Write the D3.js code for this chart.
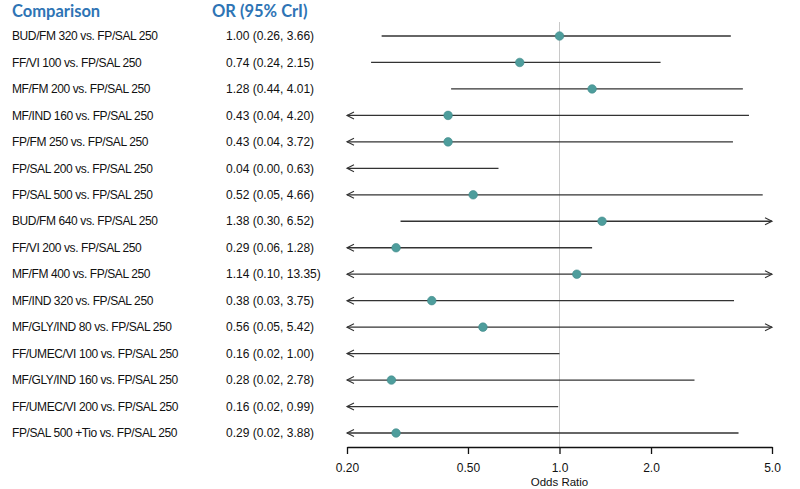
<!DOCTYPE html>
<html>
<head>
<meta charset="utf-8">
<script src="https://cdn.jsdelivr.net/npm/d3@7"></script>
<style>
  body { margin: 0; background: #fff; }
  svg { display: block; }
</style>
</head>
<body>
<script>
'use strict';

// comparisons vs FP/SAL 250
var comparisons = [
   "BUD/FM 320 vs. FP/SAL 250",
   "FF/VI 100 vs. FP/SAL 250",
   "MF/FM 200 vs. FP/SAL 250",
   "MF/IND 160 vs. FP/SAL 250",
   "FP/FM 250 vs. FP/SAL 250",
   "FP/SAL 200 vs. FP/SAL 250",
   "FP/SAL 500 vs. FP/SAL 250",
   "BUD/FM 640 vs. FP/SAL 250",
   "FF/VI 200 vs. FP/SAL 250",
   "MF/FM 400 vs. FP/SAL 250",
   "MF/IND 320 vs. FP/SAL 250",
   "MF/GLY/IND 80 vs. FP/SAL 250",
   "FF/UMEC/VI 100 vs. FP/SAL 250",
   "MF/GLY/IND 160 vs. FP/SAL 250",
   "FF/UMEC/VI 200 vs. FP/SAL 250",
   "FP/SAL 500 +Tio vs. FP/SAL 250"
];
var oddsRatio = [1.00, 0.74, 1.28, 0.43, 0.43, 0.04, 0.52, 1.38, 0.29, 1.14, 0.38, 0.56, 0.16, 0.28, 0.16, 0.29];
var lowerCrI  = [0.26, 0.24, 0.44, 0.04, 0.04, 0.00, 0.05, 0.30, 0.06, 0.10, 0.03, 0.05, 0.02, 0.02, 0.02, 0.02];
var upperCrI  = [3.66, 2.15, 4.01, 4.20, 3.72, 0.63, 4.66, 6.52, 1.28, 13.35, 3.75, 5.42, 1.00, 2.78, 0.99, 3.88];
var tickValues = [0.2, 0.5, 1.0, 2.0, 5.0];
var tickLabels = ["0.20", "0.50", "1.0", "2.0", "5.0"];

var width = 800, height = 489;
var xMin = 0.2, xMax = 5.0;

var svg = d3.select("body").append("svg")
   .attr("width", width)
   .attr("height", height);

var x = d3.scaleLog()
   .domain([xMin, xMax])
   .range([347, 772]);

var y = d3.scaleLinear()
   .domain([0, comparisons.length - 1])
   .range([36, 433]);

var blue = "#2e74b5";
var labelFont = "'Liberation Sans', Arial, sans-serif";
var headFont = "Lato, 'Open Sans', sans-serif";

// headers
svg.append("text")
   .attr("x", 12).attr("y", 17)
   .attr("font-family", headFont)
   .attr("font-weight", "bold")
   .attr("font-size", 16.5)
   .attr("fill", blue)
   .text("Comparison");

svg.append("text")
   .attr("x", 212).attr("y", 17)
   .attr("font-family", headFont)
   .attr("font-weight", "bold")
   .attr("font-size", 16.5)
   .attr("fill", blue)
   .text("OR (95% CrI)");

// reference line at OR = 1
svg.append("line")
   .attr("x1", x(1)).attr("x2", x(1))
   .attr("y1", 22).attr("y2", 447)
   .attr("stroke", "#c8c8c8")
   .attr("stroke-width", 1);

var rows = svg.selectAll("g.row")
   .data(comparisons)
   .enter()
   .append("g")
   .attr("class", "row")
   .attr("transform", function(d, i){ return "translate(0," + y(i) + ")"; });

rows.append("text")
   .attr("x", 12).attr("dy", "0.35em")
   .attr("font-family", labelFont)
   .attr("font-size", 12)
   .attr("letter-spacing", -0.4)
   .attr("fill", "#111")
   .text(function(d){ return d; });

rows.append("text")
   .attr("x", 226).attr("dy", "0.35em")
   .attr("font-family", labelFont)
   .attr("font-size", 12)
   .attr("fill", "#111")
   .text(function(d, i){
      return oddsRatio[i].toFixed(2) + " (" + lowerCrI[i].toFixed(2) + ", " + upperCrI[i].toFixed(2) + ")";
   });

function clamp(v){ return Math.max(xMin, Math.min(xMax, v)); }

// interval lines
rows.append("line")
   .attr("x1", function(d, i){ return x(clamp(lowerCrI[i])); })
   .attr("x2", function(d, i){ return x(clamp(upperCrI[i])); })
   .attr("stroke", "#333")
   .attr("stroke-width", 1.3);

// arrow heads when the interval runs off the axis
var arrowLen = 7, arrowH = 3.5;
rows.filter(function(d, i){ return lowerCrI[i] < xMin; })
   .append("path")
   .attr("d", function(){
      var x0 = x(xMin);
      return "M" + (x0 + arrowLen) + "," + (-arrowH) + "L" + x0 + ",0L" + (x0 + arrowLen) + "," + arrowH;
   })
   .attr("fill", "none")
   .attr("stroke", "#333")
   .attr("stroke-width", 1.1);

rows.filter(function(d, i){ return upperCrI[i] > xMax; })
   .append("path")
   .attr("d", function(){
      var x0 = x(xMax);
      return "M" + (x0 - arrowLen) + "," + (-arrowH) + "L" + x0 + ",0L" + (x0 - arrowLen) + "," + arrowH;
   })
   .attr("fill", "none")
   .attr("stroke", "#333")
   .attr("stroke-width", 1.1);

// point estimates (only those inside the axis range)
rows.filter(function(d, i){ return oddsRatio[i] >= xMin && oddsRatio[i] <= xMax; })
   .append("circle")
   .attr("cx", function(d){ return x(oddsRatio[comparisons.indexOf(d)]); })
   .attr("cy", 0)
   .attr("r", 4.3)
   .attr("fill", "#4e9d9c")
   .attr("stroke", "#3f8a89")
   .attr("stroke-width", 0.6);

// x axis
var xAxis = d3.axisBottom(x)
   .tickValues(tickValues)
   .tickFormat(function(d, i){ return tickLabels[i]; })
   .tickSize(7)
   .tickSizeOuter(0);

var axisG = svg.append("g")
   .attr("transform", "translate(0,447)")
   .call(xAxis);

axisG.select(".domain").attr("stroke", "#111").attr("stroke-width", 1.3);
axisG.selectAll(".tick line").attr("stroke", "#111").attr("stroke-width", 1.3);
axisG.selectAll(".tick text")
   .attr("font-family", labelFont)
   .attr("font-size", 12)
   .attr("fill", "#111")
   .attr("dy", "1.25em");

svg.append("text")
   .attr("x", x(1)).attr("y", 486)
   .attr("text-anchor", "middle")
   .attr("font-family", labelFont)
   .attr("font-size", 11.5)
   .attr("fill", "#111")
   .text("Odds Ratio");
</script>
</body>
</html>
